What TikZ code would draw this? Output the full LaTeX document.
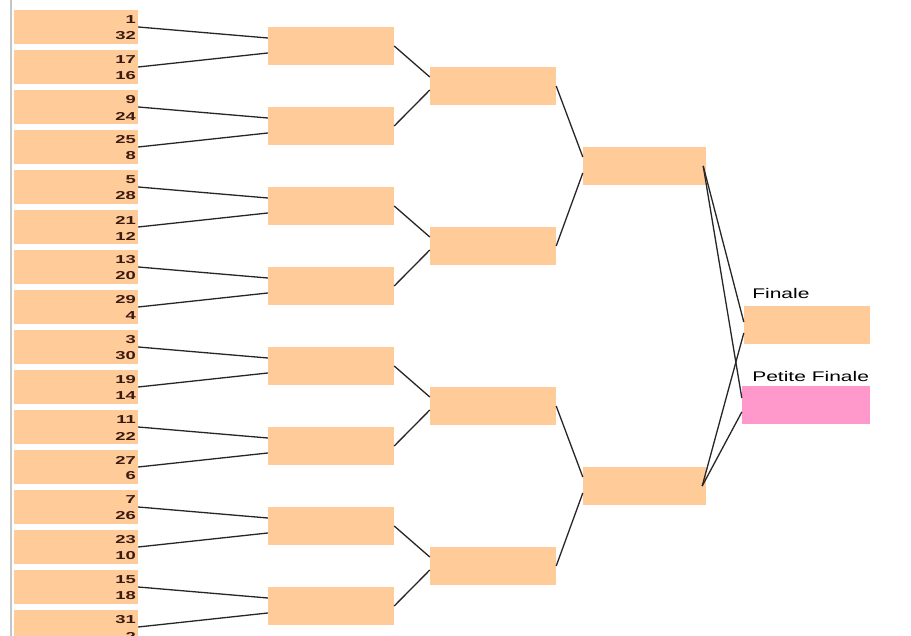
\documentclass[tikz,border=0pt]{standalone}
\usepackage{fontspec}
\setmainfont{Liberation Sans}
\usetikzlibrary{positioning}
\definecolor{tabPeche}{HTML}{FFCC99}
\definecolor{tabRose}{HTML}{FF99CC}
\definecolor{tabChiffre}{HTML}{3B1A12}

\begin{document}
\begin{tikzpicture}[
    x=1pt, y=-1pt,
    case/.style={draw=none, fill=tabPeche, minimum width=126pt, minimum height=38pt, inner sep=0pt},
    tete/.style={case, minimum width=124pt, minimum height=34pt},
    chiffre/.style={font=\fontsize{11.5}{11.5}\selectfont\bfseries, text=tabChiffre, xscale=1.6, anchor=east, inner sep=0pt},
    titre/.style={font=\fontsize{14}{14}\selectfont, xscale=1.5, anchor=west, inner sep=0pt},
    lien/.style={draw=black!85, line width=1.3pt}
  ]
  \clip (0,0) rectangle (911,636);
  \fill[white] (0,0) rectangle (911,636);
  \draw[gray!45, line width=1.5pt] (11,0) -- (11,636);

  % Premier tour : 16 cases avec les deux têtes de série
  \foreach \a/\b [count=\i] in {1/32,17/16,9/24,25/8,5/28,21/12,13/20,29/4,3/30,19/14,11/22,27/6,7/26,23/10,15/18,31/2}{
    \node[tete] (t\i) at (76, {27+40*(\i-1)}) {};
    \node[chiffre] (ta\i) at ([xshift=-2pt, yshift=7pt]t\i.east) {\a};
    \node[chiffre] (tb\i) at ([xshift=-2pt, yshift=-9pt]t\i.east) {\b};
  }

  % Huitièmes, quarts, demies
  \foreach \j in {1,...,8} \node[case] (h\j) at (331, {46+80*(\j-1)}) {};
  \foreach \k in {1,...,4} \node[case] (q\k) at (493, {86+160*(\k-1)}) {};
  \foreach \m in {1,2} \node[case, minimum width=123pt] (d\m) at (644.5, {166+320*(\m-1)}) {};

  % Finale et petite finale
  \node[case] (fin) at (807, 325.5) {};
  \node[case, fill=tabRose, minimum width=128pt] (pf) at (806, 405) {};
  \node[titre] (lfin) at (752, 293) {Finale};
  \node[titre] (lpf) at (752, 376) {Petite Finale};

  % Liaisons
  \foreach \i in {1,...,16}{
    \pgfmathtruncatemacro\n{(\i+1)/2}
    \pgfmathsetmacro\s{isodd(\i) ? 8 : -7}
    \draw[lien] (t\i.east) -- ([yshift=\s pt]h\n.west);
  }
  \foreach \j in {1,...,8}{
    \pgfmathtruncatemacro\n{(\j+1)/2}
    \pgfmathsetmacro\s{isodd(\j) ? 9 : -4}
    \draw[lien] (h\j.east) -- ([yshift=\s pt]q\n.west);
  }
  \foreach \k in {1,...,4}{
    \pgfmathtruncatemacro\n{(\k+1)/2}
    \pgfmathsetmacro\s{isodd(\k) ? 9 : -7}
    \draw[lien] (q\k.east) -- ([yshift=\s pt]d\n.west);
  }
  \draw[lien] ([xshift=-3pt]d1.east) -- ([yshift=3.5pt]fin.west);
  \draw[lien] ([xshift=-3pt]d1.east) -- ([yshift=7pt]pf.west);
  \draw[lien] ([xshift=-4pt]d2.east) -- ([yshift=-7.5pt]fin.west);
  \draw[lien] ([xshift=-4pt]d2.east) -- ([yshift=-7pt]pf.west);
\end{tikzpicture}
\end{document}
